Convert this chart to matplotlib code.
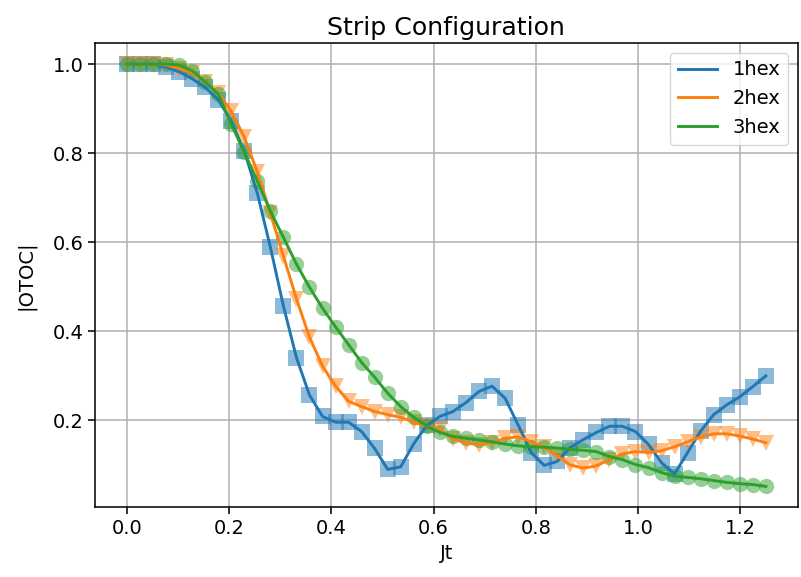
import numpy as np
import matplotlib
matplotlib.use('Agg')
import matplotlib.pyplot as plt

# time grid (50 samples from 0 to 1.25)
jt = np.linspace(0, 1.25, 50)

otoc_1hex = [1.0, 1.0, 1.0, 0.993, 0.983, 0.967, 0.948, 0.92, 0.872, 0.805,
             0.71, 0.589, 0.457, 0.341, 0.257, 0.209, 0.196, 0.196, 0.175, 0.137,
             0.09, 0.096, 0.148, 0.189, 0.209, 0.22, 0.24, 0.265, 0.277, 0.25,
             0.19, 0.128, 0.099, 0.108, 0.139, 0.157, 0.173, 0.187, 0.187, 0.175,
             0.146, 0.105, 0.08, 0.128, 0.176, 0.213, 0.235, 0.253, 0.276, 0.30]

otoc_2hex = [1.0, 1.0, 1.0, 0.998, 0.99, 0.98, 0.96, 0.935, 0.894, 0.836,
             0.758, 0.665, 0.569, 0.473, 0.387, 0.322, 0.277, 0.243, 0.231, 0.22,
             0.213, 0.207, 0.196, 0.187, 0.18, 0.158, 0.15, 0.145, 0.15, 0.16,
             0.163, 0.152, 0.14, 0.12, 0.1, 0.093, 0.098, 0.112, 0.125, 0.13,
             0.128, 0.132, 0.141, 0.152, 0.163, 0.17, 0.17, 0.165, 0.158, 0.15]

otoc_3hex = [1.0, 1.0, 1.0, 1.0, 0.998, 0.985, 0.96, 0.933, 0.865, 0.802,
             0.737, 0.67, 0.611, 0.551, 0.499, 0.452, 0.41, 0.37, 0.33, 0.297,
             0.261, 0.231, 0.207, 0.187, 0.173, 0.164, 0.16, 0.156, 0.152, 0.147,
             0.143, 0.141, 0.14, 0.138, 0.135, 0.133, 0.13, 0.119, 0.112, 0.101,
             0.094, 0.083, 0.075, 0.072, 0.069, 0.065, 0.061, 0.058, 0.056, 0.052]

labels = ['1hex', '2hex', '3hex']
markers = ['s', 'v', 'o']
colors = ['#1f77b4', '#ff7f0e', '#2ca02c']

sc = 1.4  # figure was rendered at a larger scale
plt.rcParams['font.size'] = 10 * sc

fig = plt.figure(figsize=(8.01, 5.77), dpi=100)
ax = fig.add_subplot(111)
fig.subplots_adjust(left=0.1186, right=0.996, top=0.9255, bottom=0.1205)

series = [otoc_1hex, otoc_2hex, otoc_3hex]
for ys, m, c in zip(series, markers, colors):
    ax.plot(jt, ys, linestyle='none', marker=m, markersize=11, color=c,
            alpha=0.5, markeredgewidth=0)
for ys, lab, c in zip(series, labels, colors):
    ax.plot(jt, ys, color=c, lw=1.5 * sc, label=lab)

ax.set_title('Strip Configuration', fontsize=13 * sc)
ax.set_xlabel('Jt')
ax.set_ylabel('|OTOC|', labelpad=12)
ax.grid(True, color='#b0b0b0', lw=0.8 * sc)
ax.set_axisbelow(True)
ax.tick_params(width=0.8 * sc, length=3.5 * sc)
for sp in ax.spines.values():
    sp.set_linewidth(0.8 * sc)
ax.legend(loc='upper right')

fig.savefig('out.png', dpi=100)
